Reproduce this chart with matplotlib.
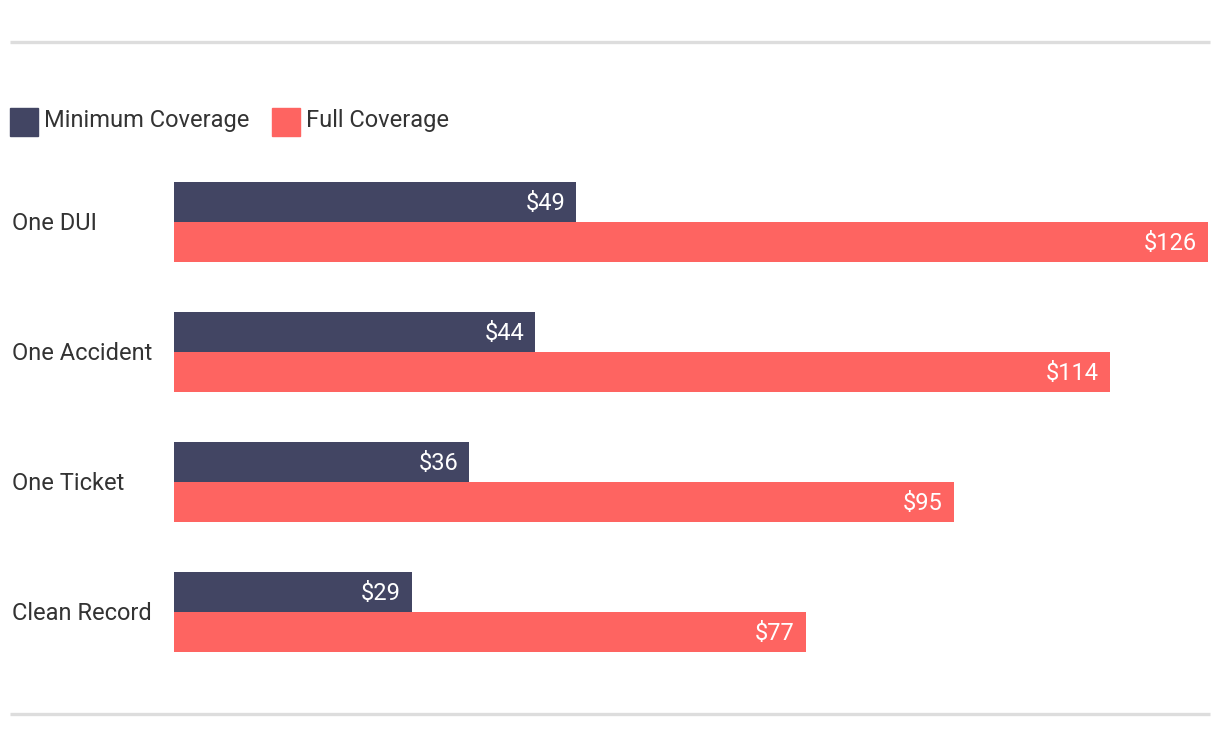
import matplotlib.pyplot as plt
import numpy as np
from matplotlib.patches import Rectangle
from matplotlib.lines import Line2D

categories = ['One DUI', 'One Accident', 'One Ticket', 'Clean Record']
min_coverage = [49, 44, 36, 29]
full_coverage = [126, 114, 95, 77]
series_names = ['Minimum Coverage', 'Full Coverage']

dark = '#424563'
red = '#fe6461'
text_color = '#333333'

plt.rcParams['font.family'] = ['Roboto', 'DejaVu Sans']

W, H = 1220, 748
fig = plt.figure(figsize=(W / 100, H / 100), dpi=100)

def fx(px):
    return px / W

def fy(py):
    return 1 - py / H

# axes spans bar area: x 174..1208, y 182..652 (pixels from top)
ax = fig.add_axes([fx(174), fy(652), fx(1208 - 174), (652 - 182) / H])
h = 40 / 130
y = np.arange(len(categories))
bars_min = ax.barh(y - h / 2, min_coverage, height=h, color=dark)
bars_full = ax.barh(y + h / 2, full_coverage, height=h, color=red)
ax.set_xlim(0, max(full_coverage))
ax.set_ylim(len(categories) - 1 + h, -h)
ax.axis('off')

for bars in (bars_min, bars_full):
    for b in bars:
        v = b.get_width()
        ax.annotate(f'${v:g}', (v, b.get_y() + b.get_height() / 2),
                    xytext=(-11, -1), textcoords='offset pixels',
                    ha='right', va='center', color='white', fontsize=17)

for i, c in enumerate(categories):
    ax.annotate(c, (0, i), xycoords=('figure pixels', 'data'),
                xytext=(12, -1), textcoords='offset pixels',
                ha='left', va='center', color=text_color, fontsize=17)

# separator lines
for py in (42, 714):
    fig.add_artist(Line2D([fx(10), fx(1210)], [fy(py), fy(py)],
                          color='#dddddd', linewidth=2.4,
                          solid_capstyle='butt'))

# legend
for x0, name, col in [(10, series_names[0], dark), (272, series_names[1], red)]:
    fig.add_artist(Rectangle((fx(x0), fy(136)), fx(28), 28 / H,
                             color=col, transform=fig.transFigure))
    fig.text(fx(x0 + 34), fy(121), name, ha='left', va='center',
             color=text_color, fontsize=17)

fig.savefig('out.png', dpi=100)
